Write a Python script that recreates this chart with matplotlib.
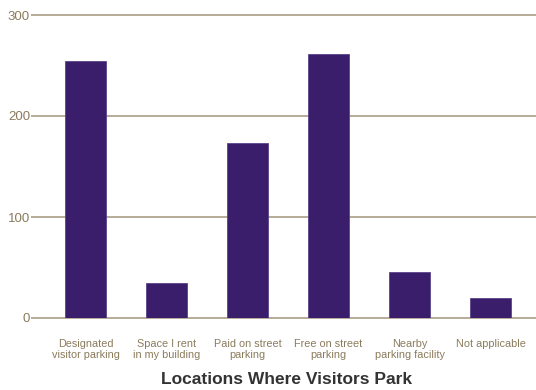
import matplotlib.pyplot as plt
import numpy as np

plt.rcParams['font.family'] = ['Liberation Sans', 'DejaVu Sans']

categories = ["Designated\nvisitor parking", "Space I rent\nin my building", "Paid on street\nparking",
              "Free on street\nparking", "Nearby\nparking facility", "Not applicable"]
counts = [254, 35, 173, 261, 46, 20]
y_ticks = [0, 100, 200, 300]

bar_color = "#3a1e6c"
grid_color = "#b5ab98"
label_color = "#8a7b5c"

fig = plt.figure(figsize=(5.36, 3.9), dpi=100)
ax = fig.add_axes([37 / 536, 1 - 318 / 390, 1 - 37 / 536, (318 - 15) / 390])

x = np.arange(len(categories))
ax.bar(x, counts, width=0.506, color=bar_color, edgecolor="#5a448a", linewidth=0.6, zorder=3)

ax.set_ylim(0, 300)
ax.set_xlim(-0.599, 5.56)
ax.set_yticks(y_ticks)
ax.yaxis.grid(True, color=grid_color, linewidth=1.4, zorder=0)
for gl in ax.get_ygridlines():
    gl.set_clip_on(False)
ax.tick_params(axis="y", length=4, width=1.4, color=grid_color, labelcolor=label_color,
               labelsize=9.5, pad=1)
ax.set_xticks(x)
ax.set_xticklabels(categories, fontsize=7.8, color=label_color, linespacing=1.2)
ax.tick_params(axis="x", length=0, pad=15)
for s in ax.spines.values():
    s.set_visible(False)

ax.set_xlabel("Locations Where Visitors Park", fontsize=12.5, fontweight="bold", color="#333333",
              labelpad=8)

fig.savefig("out.png", dpi=100)
